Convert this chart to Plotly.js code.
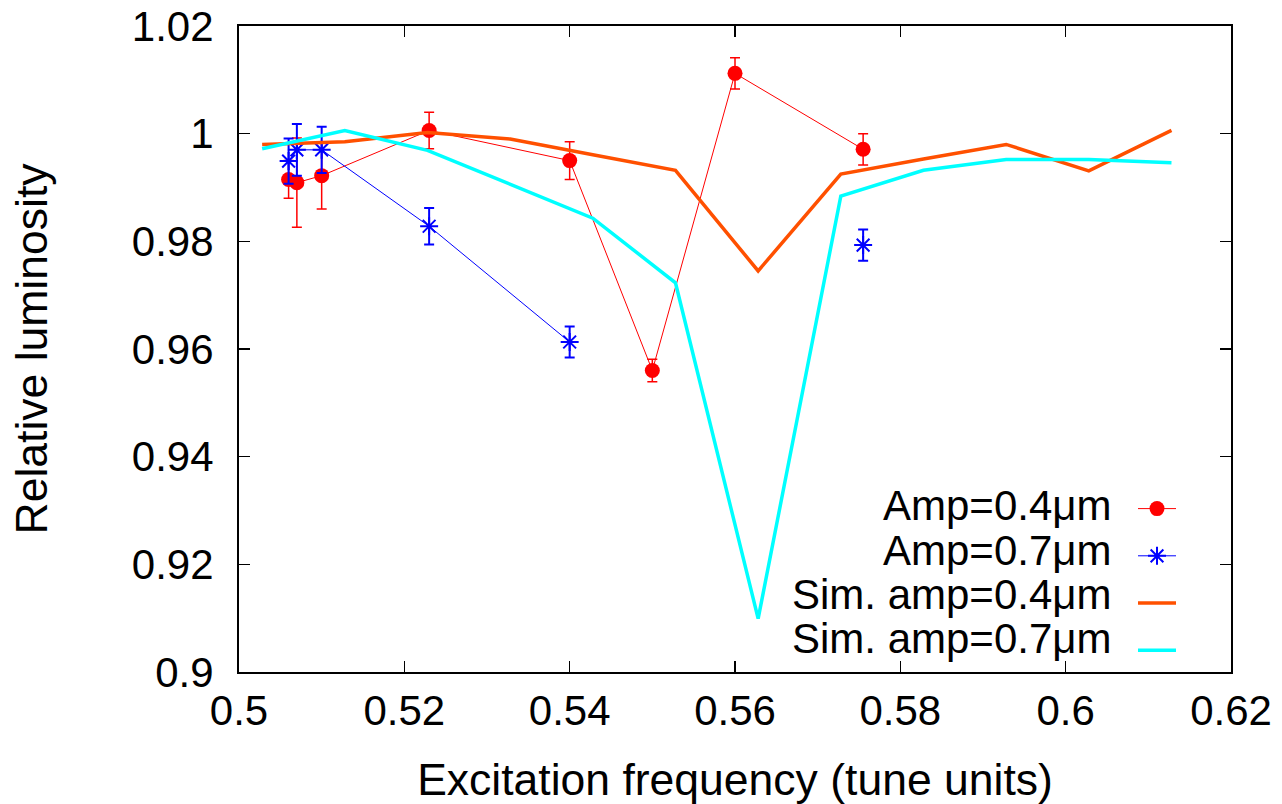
<!DOCTYPE html>
<html>
<head>
<meta charset="utf-8">
<script src="https://cdn.plot.ly/plotly-3.0.1.min.js"></script>
<style>html,body{margin:0;padding:0;background:#fff;}#chart{width:1282px;height:804px;}</style>
</head>
<body>
<div id="chart"></div>
<script>
// Measured data: Amp = 0.4 um
const redX = [0.506, 0.507, 0.510, 0.523, 0.540, 0.550, 0.560, 0.5755];
const redY = [0.9915, 0.9909, 0.9922, 1.0006, 0.9950, 0.9560, 1.0112, 0.9971];
const redErr = [0.0035, 0.0083, 0.0062, 0.0034, 0.0035, 0.0021, 0.0029, 0.0029];

// Measured data: Amp = 0.7 um (last point not joined)
const blueX = [0.506, 0.507, 0.510, 0.523, 0.540, 0.5755];
const blueY = [0.9949, 0.9970, 0.9970, 0.9828, 0.9613, 0.9793];
const blueErr = [0.0042, 0.0048, 0.0043, 0.0034, 0.0029, 0.0029];
const blueJoined = 5;

// Simulations
const simX = [0.5028, 0.5128, 0.5228, 0.5328, 0.5428, 0.5528, 0.5628, 0.5728, 0.5828, 0.5928, 0.6028, 0.6128];
const simAmp04 = [0.9980, 0.9985, 1.0002, 0.9990, 0.9961, 0.9932, 0.9745, 0.9925, 0.9953, 0.9980, 0.9931, 1.0006];
const simAmp07 = [0.9972, 1.0006, 0.9969, 0.9906, 0.9843, 0.9723, 0.9099, 0.9884, 0.9932, 0.9952, 0.9952, 0.9946];

const seriesNames = ['Amp=0.4μm', 'Amp=0.7μm', 'Sim. amp=0.4μm', 'Sim. amp=0.7μm'];

const xTickVals = [0.5, 0.52, 0.54, 0.56, 0.58, 0.6, 0.62];
const xTickText = ['0.5', '0.52', '0.54', '0.56', '0.58', '0.6', '0.62'];
const yTickVals = [0.9, 0.92, 0.94, 0.96, 0.98, 1.0, 1.02];
const yTickText = ['0.9', '0.92', '0.94', '0.96', '0.98', '1', '1.02'];

const FONT = 'Liberation Sans, Arial, Helvetica, sans-serif';

function withGap(arr, n) {
  return arr.slice(0, n).concat([null], arr.slice(n));
}

const traces = [
  {
    type: 'scatter', mode: 'lines+markers', name: ' ',
    x: redX, y: redY,
    error_y: {type: 'data', array: redErr, visible: true, color: '#ff0000', thickness: 1.5, width: 5},
    line: {color: '#ff0000', width: 1},
    marker: {symbol: 'circle', size: 15, color: '#ff0000'}
  },
  {
    type: 'scatter', mode: 'lines+markers', name: ' ',
    x: withGap(blueX, blueJoined), y: withGap(blueY, blueJoined),
    connectgaps: false,
    error_y: {type: 'data', array: withGap(blueErr, blueJoined), visible: true, color: '#0000ff', thickness: 2, width: 5},
    line: {color: '#0000ff', width: 1},
    marker: {symbol: 'asterisk-open', size: 15, color: '#0000ff', line: {color: '#0000ff', width: 2}}
  },
  {
    type: 'scatter', mode: 'lines', name: ' ',
    x: simX, y: simAmp04,
    line: {color: '#ff5000', width: 3.5}
  },
  {
    type: 'scatter', mode: 'lines', name: ' ',
    x: simX, y: simAmp07,
    line: {color: '#00ffff', width: 3.5}
  }
];

const mL = 239, mR = 51, mT = 26, mB = 132;
const plotH = 804 - mT - mB;
const plotW = 1282 - mL - mR;
function px2paperX(px) { return (px - mL) / plotW; }
function px2paperY(py) { return (804 - mB - py) / plotH; }

const legendRowsPx = [505, 550, 594, 638];
const annotations = seriesNames.map((t, i) => ({
  xref: 'paper', yref: 'paper',
  x: px2paperX(1113), y: px2paperY(legendRowsPx[i]),
  xanchor: 'right', yanchor: 'middle',
  text: t, showarrow: false,
  font: {family: FONT, size: 42, color: '#000'}
}));

const axisCommon = {
  showline: true, linecolor: '#000', linewidth: 2, mirror: 'ticks',
  ticks: 'inside', ticklen: 11, tickwidth: 1.5, tickcolor: '#000',
  showgrid: false, zeroline: false,
  tickfont: {family: FONT, size: 42, color: '#000'}
};

const layout = {
  width: 1282, height: 804,
  margin: {l: mL, r: mR, t: mT, b: mB, pad: 0},
  paper_bgcolor: '#fff', plot_bgcolor: '#fff',
  showlegend: true,
  legend: {
    x: px2paperX(1133), y: px2paperY(480), xanchor: 'left', yanchor: 'top',
    bgcolor: 'rgba(0,0,0,0)', borderwidth: 0,
    font: {family: FONT, size: 34, color: '#000'},
    tracegroupgap: 0, itemwidth: 38
  },
  xaxis: Object.assign({}, axisCommon, {
    range: [0.5, 0.62], tickvals: xTickVals, ticktext: xTickText,
    ticklabelstandoff: 1,
    title: {text: 'Excitation frequency (tune units)', font: {family: FONT, size: 44.5, color: '#000'}, standoff: 40}
  }),
  yaxis: Object.assign({}, axisCommon, {
    range: [0.9, 1.02], tickvals: yTickVals, ticktext: yTickText,
    ticklabelstandoff: 15,
    title: {text: 'Relative luminosity', font: {family: FONT, size: 44.5, color: '#000'}, standoff: 70}
  }),
  annotations: annotations
};

Plotly.newPlot('chart', traces, layout, {staticPlot: true, displayModeBar: false});
</script>
</body>
</html>
